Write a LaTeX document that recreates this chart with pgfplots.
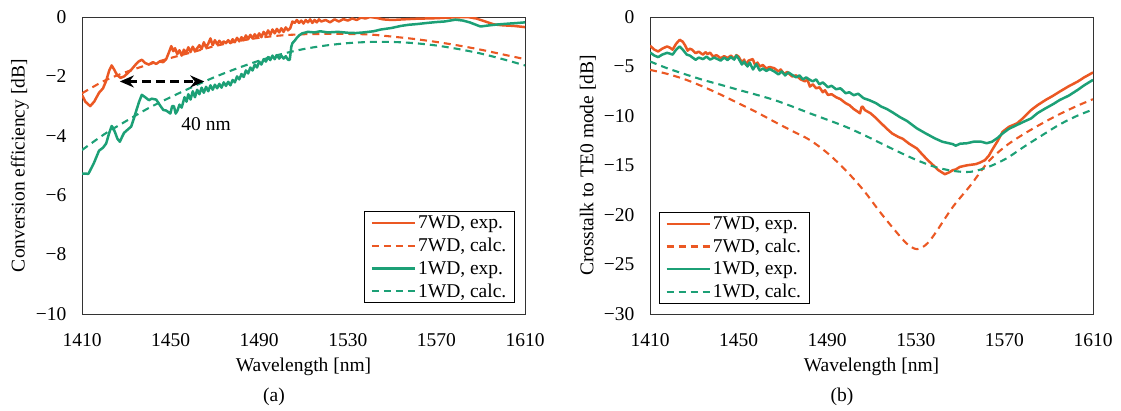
\documentclass[border=0pt]{standalone}
\usepackage{fontspec}
\setmainfont{Liberation Serif}
\usepackage{pgfplots}
\pgfplotsset{compat=1.18}
\usetikzlibrary{arrows.meta}
\definecolor{exporange}{RGB}{235,88,35}
\definecolor{expgreen}{RGB}{28,160,118}
\newcommand\fs{\fontsize{19.5}{23}\selectfont}
\pgfplotsset{
  myaxis/.style={
    width=443pt, height=297pt, scale only axis,
    xmin=1410, xmax=1610,
    xtick={1410,1450,1490,1530,1570,1610},
    xticklabels={1410,1450,1490,1530,1570,1610},
    major tick length=0pt,
    axis line style={black!80, line width=1pt},
    font=\fs,
    xticklabel style={yshift=-16pt},
    yticklabel style={xshift=-12pt},
    xlabel={Wavelength [nm]},
    xlabel style={at={(axis description cs:0.5,-0.192)}, anchor=base},
    ylabel style={at={(axis description cs:-0.14,0.5)}, anchor=center},
    legend cell align=left,
    legend style={font=\fs, draw=black, line width=0.9pt, inner xsep=6pt, inner ysep=2pt, row sep=4pt,
      /tikz/every even column/.append style={column sep=4pt}},
    legend image code/.code={\draw[##1] (0pt,0pt) -- (43pt,0pt);},
  },
  exps/.style={line width=2.5pt, line join=round, #1},
  calcs/.style={line width=2.1pt, dash pattern=on 7pt off 5pt, #1},
}
\begin{document}
\begin{tikzpicture}
\path[use as bounding box] (0,0) rectangle (1121pt,-410pt);

% (a) conversion efficiency
\begin{axis}[myaxis, at={(82pt,-314pt)}, anchor=south west,
  ymin=-10, ymax=0, ytick={-10,-8,-6,-4,-2,0},
  yticklabels={−10,−8,−6,−4,−2,0},
  ylabel={Conversion efficiency [dB]},
  legend style={at={(0.977,0.037)}, anchor=south east}]
\addplot[exps=exporange] coordinates {
(1410,-2.62)(1411.5,-2.85)(1413.7,-3.0)(1415.5,-2.85)(1417.7,-2.55)(1419.5,-2.4)(1420.9,-2.15)(1422.3,-1.8)(1423.4,-1.63)(1424.6,-1.78)(1425.8,-1.95)(1427.4,-2.05)(1429,-2.0)(1430.5,-1.9)(1432.2,-1.78)(1434,-1.62)(1435.5,-1.5)(1437,-1.44)(1438.5,-1.55)(1440.2,-1.6)(1442,-1.52)(1443.5,-1.58)(1445,-1.5)(1446.7,-1.52)(1448,-1.42)(1449.2,-1.2)(1450.3,-0.98)(1451.2,-1.15)(1452,-1.05)(1453,-1.25)(1454,-1.12)(1455,-1.3)(1456,-1.1)(1457,-1.22)(1458,-1.02)(1459,-1.18)(1460,-1.0)(1461,-1.15)(1462,-1.05)(1463,-0.95)(1464,-1.08)(1465,-0.85)(1466,-1.02)(1467,-0.9)(1468,-0.72)(1469,-0.95)(1470,-0.78)(1471,-0.92)(1472,-0.8)(1473,-0.9)(1474,-0.82)(1475,-0.88)(1476,-0.78)(1477,-0.88)(1478,-0.75)(1479,-0.85)(1480,-0.7)(1481,-0.82)(1482,-0.68)(1483,-0.78)(1484,-0.62)(1485,-0.75)(1486,-0.6)(1487,-0.72)(1488,-0.58)(1489,-0.7)(1490,-0.55)(1491,-0.68)(1492,-0.5)(1493,-0.62)(1494,-0.45)(1495,-0.6)(1496,-0.42)(1497,-0.55)(1498,-0.4)(1499,-0.52)(1500,-0.38)(1501,-0.5)(1502,-0.35)(1503,-0.45)(1504,-0.38)(1505,-0.15)(1506,-0.2)(1507,-0.1)(1508,-0.2)(1509,-0.12)(1510,-0.22)(1511,-0.1)(1512,-0.18)(1513,-0.08)(1514,-0.2)(1515,-0.1)(1516,-0.18)(1517,-0.08)(1518,-0.15)(1520,-0.1)(1522,-0.18)(1524,-0.08)(1526,-0.15)(1528,-0.07)(1530,-0.12)(1532,-0.05)(1534,-0.1)(1536,-0.02)(1538,-0.05)(1540,0)(1543,-0.03)(1546,-0.08)(1550,-0.1)(1555,-0.08)(1560,-0.06)(1565,-0.05)(1570,-0.04)(1575,-0.02)(1580,-0.01)(1584,0)(1588,-0.05)(1592,-0.15)(1596,-0.25)(1600,-0.28)(1605,-0.3)(1610,-0.34)};
\addlegendentry{7WD, exp.}
\addplot[calcs=exporange, smooth] coordinates {
(1410,-2.57)(1420,-2.15)(1430,-1.85)(1440,-1.6)(1450,-1.38)(1460,-1.18)(1470,-0.98)(1480,-0.82)(1490,-0.7)(1500,-0.62)(1510,-0.58)(1520,-0.57)(1530,-0.57)(1540,-0.59)(1550,-0.66)(1560,-0.74)(1570,-0.84)(1580,-0.96)(1590,-1.1)(1600,-1.26)(1610,-1.42)};
\addlegendentry{7WD, calc.}
\addplot[exps=expgreen] coordinates {
(1410,-5.27)(1412.9,-5.28)(1415.3,-4.93)(1417.7,-4.5)(1419.5,-4.4)(1420.9,-4.26)(1422.3,-3.9)(1423.4,-3.67)(1424.2,-3.75)(1425,-3.9)(1426,-4.1)(1427.1,-4.2)(1428,-4.05)(1429,-3.9)(1430.5,-3.8)(1432.2,-3.69)(1433.5,-3.4)(1434.6,-3.13)(1435.8,-2.85)(1437,-2.62)(1438.5,-2.7)(1440.2,-2.8)(1441.5,-2.75)(1443.5,-2.78)(1445,-2.95)(1446.7,-3.13)(1448,-3.15)(1449.9,-3.25)(1450.7,-3.0)(1451.5,-3.0)(1452.3,-3.25)(1453.1,-3.15)(1454,-2.95)(1455,-3.05)(1456.3,-2.7)(1457.2,-2.85)(1458,-2.6)(1459,-2.78)(1460,-2.5)(1461,-2.7)(1462,-2.45)(1463,-2.6)(1464,-2.38)(1465,-2.55)(1466,-2.35)(1467,-2.5)(1468,-2.3)(1469,-2.45)(1470,-2.28)(1471,-2.4)(1472,-2.25)(1473,-2.38)(1474,-2.2)(1475,-2.32)(1476,-2.18)(1477,-2.3)(1478,-2.12)(1479,-2.2)(1480,-2.0)(1481,-2.1)(1482,-1.92)(1483,-2.02)(1484,-1.8)(1485,-1.9)(1486,-1.7)(1487,-1.8)(1488,-1.6)(1489,-1.7)(1490,-1.5)(1491,-1.6)(1492,-1.42)(1493,-1.5)(1494,-1.35)(1495,-1.45)(1496,-1.3)(1497,-1.42)(1498,-1.28)(1499,-1.4)(1500,-1.3)(1501,-1.4)(1502,-1.32)(1503,-1.44)(1503.8,-1.44)(1504.5,-1.0)(1505,-0.88)(1506,-0.8)(1507,-0.7)(1508,-0.62)(1509.4,-0.55)(1512,-0.5)(1515,-0.52)(1517.5,-0.48)(1521,-0.52)(1525.5,-0.5)(1530,-0.53)(1533.6,-0.54)(1537,-0.52)(1541.6,-0.48)(1545,-0.42)(1549.7,-0.37)(1554,-0.3)(1557.7,-0.26)(1561,-0.24)(1565.8,-0.2)(1570,-0.17)(1573.8,-0.15)(1578.6,-0.09)(1582,-0.12)(1585,-0.18)(1589.9,-0.32)(1594,-0.28)(1597.9,-0.25)(1603,-0.22)(1607,-0.2)(1610,-0.18)};
\addlegendentry{1WD, exp.}
\addplot[calcs=expgreen, smooth] coordinates {
(1410,-4.48)(1420,-3.95)(1430,-3.5)(1440,-3.07)(1450,-2.7)(1460,-2.35)(1470,-2.02)(1480,-1.73)(1490,-1.47)(1500,-1.25)(1510,-1.08)(1520,-0.96)(1530,-0.88)(1540,-0.84)(1550,-0.84)(1560,-0.88)(1570,-0.96)(1580,-1.08)(1590,-1.23)(1600,-1.42)(1610,-1.63)};
\addlegendentry{1WD, calc.}
\draw[black, line width=2.2pt, dash pattern=on 9pt off 5pt, {Stealth[length=14pt,width=12pt]}-{Stealth[length=14pt,width=12pt]}] (axis cs:1427.1,-2.17) -- (axis cs:1465.2,-2.17);
\node[font=\fs] at (axis cs:1466,-3.6) {40 nm};
\end{axis}

% (b) crosstalk
\begin{axis}[myaxis, at={(650pt,-314pt)}, anchor=south west,
  ymin=-30, ymax=0, ytick={-30,-25,-20,-15,-10,-5,0},
  yticklabels={−30,−25,−20,−15,−10,−5,0},
  ylabel={Crosstalk to TE0 mode [dB]},
  legend style={at={(0.02,0.034)}, anchor=south west}]
\addplot[exps=exporange] coordinates {
(1410,-2.9)(1412,-3.3)(1413.7,-3.48)(1415.5,-3.2)(1417.7,-2.97)(1419,-3.1)(1420.2,-3.3)(1421.8,-2.7)(1423.4,-2.3)(1424.8,-2.5)(1425.8,-2.85)(1427,-3.4)(1428,-3.2)(1429,-3.3)(1430.6,-3.65)(1432,-3.5)(1433.9,-3.8)(1435,-3.55)(1436,-3.75)(1437.1,-3.6)(1438.5,-4.0)(1440,-3.85)(1441.9,-4.16)(1443.5,-3.95)(1445,-4.15)(1446.5,-3.9)(1448,-4.2)(1449,-3.85)(1450,-4.0)(1451.5,-4.6)(1452.5,-4.3)(1453.2,-4.8)(1454.5,-4.4)(1456.4,-4.25)(1457.5,-4.9)(1458.5,-4.6)(1459.6,-5.0)(1461,-4.85)(1462.5,-5.2)(1464,-5.05)(1466.1,-5.17)(1468,-5.5)(1469,-5.3)(1470.5,-5.75)(1472,-5.55)(1474.1,-6.0)(1476,-5.9)(1478,-6.3)(1480,-6.5)(1481,-6.3)(1482.2,-7.03)(1483.5,-6.8)(1485,-7.2)(1486.5,-7.1)(1488,-7.6)(1489,-7.4)(1490.3,-7.87)(1492,-7.8)(1494,-8.1)(1496,-8.3)(1498.3,-8.7)(1500,-8.9)(1502,-9.3)(1504,-9.6)(1504.8,-9.73)(1505.5,-9.1)(1506,-9.05)(1507,-9.4)(1509.6,-9.73)(1512,-10.2)(1514.4,-10.74)(1517,-11.3)(1519.3,-11.76)(1522,-12.1)(1524.1,-12.3)(1527,-12.8)(1530.5,-13.28)(1533,-13.9)(1535.4,-14.46)(1538,-15.0)(1540.2,-15.47)(1543.1,-15.88)(1545,-15.7)(1546.7,-15.47)(1548,-15.4)(1549.9,-15.14)(1553.1,-14.98)(1557.1,-14.86)(1559,-14.7)(1561.2,-14.46)(1563,-14.0)(1564.4,-13.45)(1567,-12.5)(1569.2,-11.59)(1572,-11.1)(1575.7,-10.74)(1578,-10.3)(1582.1,-9.39)(1585,-8.9)(1588.6,-8.38)(1592,-7.95)(1595,-7.53)(1599,-7.0)(1603.1,-6.52)(1606,-6.1)(1610,-5.6)};
\addlegendentry{7WD, exp.}
\addplot[calcs=exporange, smooth] coordinates {
(1410,-5.34)(1417.7,-5.74)(1425.8,-6.3)(1433.9,-7.03)(1442,-7.85)(1450,-8.72)(1458,-9.6)(1466.1,-10.57)(1474.1,-11.5)(1482.2,-12.43)(1490.3,-13.78)(1498.3,-15.47)(1506.4,-17.5)(1514.4,-19.86)(1522.5,-22.06)(1526.5,-23.0)(1530.5,-23.45)(1534.6,-23.0)(1538.6,-21.9)(1546.7,-19.19)(1554.7,-17.0)(1562.8,-14.6)(1570.8,-13.0)(1578.9,-11.8)(1587,-10.75)(1595,-9.8)(1603.1,-8.95)(1610,-8.3)};
\addlegendentry{7WD, calc.}
\addplot[exps=expgreen] coordinates {
(1410,-3.58)(1412,-3.9)(1413.7,-4.05)(1415.5,-3.8)(1417.7,-3.62)(1419,-3.7)(1420.2,-3.8)(1421.8,-3.3)(1423.4,-2.97)(1424.8,-3.3)(1426.6,-3.8)(1428,-3.9)(1430.6,-4.32)(1432,-4.1)(1434,-4.25)(1435.5,-4.0)(1437.1,-4.3)(1439,-4.1)(1441.9,-4.4)(1443.5,-4.1)(1445,-4.35)(1446.5,-4.05)(1448,-4.3)(1449,-3.9)(1450,-4.2)(1451.5,-4.8)(1452.5,-4.5)(1454,-5.0)(1455,-4.6)(1456.5,-5.3)(1458,-4.75)(1459.5,-5.4)(1461,-5.2)(1462.5,-5.45)(1464,-5.25)(1466.1,-5.5)(1468,-5.8)(1469.5,-5.5)(1471,-5.9)(1472.5,-5.6)(1474.1,-5.84)(1476,-6.1)(1477.5,-5.9)(1479,-6.3)(1480.5,-6.1)(1482.2,-6.35)(1483.5,-6.5)(1485,-6.3)(1486.5,-6.8)(1488,-6.6)(1490.3,-7.09)(1492,-6.95)(1494,-7.3)(1496,-7.2)(1498.3,-7.7)(1500,-7.6)(1502,-7.9)(1504,-7.75)(1506.4,-8.2)(1509,-8.4)(1512,-8.7)(1514.4,-9.05)(1517,-9.3)(1520,-9.7)(1522.5,-10.07)(1526,-10.5)(1530.5,-11.25)(1534,-11.7)(1538.6,-12.26)(1542,-12.6)(1546.7,-12.84)(1548,-13.0)(1550,-12.8)(1553.1,-12.75)(1556,-12.6)(1559.6,-12.6)(1562,-12.75)(1564.4,-12.6)(1567,-12.2)(1569.2,-11.76)(1572,-11.3)(1575.7,-10.9)(1579,-10.55)(1582.1,-10.24)(1585,-9.7)(1588.6,-9.22)(1592,-8.8)(1595,-8.38)(1599,-7.95)(1603.1,-7.36)(1606,-6.9)(1610,-6.35)};
\addlegendentry{1WD, exp.}
\addplot[calcs=expgreen, smooth] coordinates {
(1410,-4.49)(1417.7,-5.17)(1425.8,-5.78)(1433.9,-6.35)(1442,-6.85)(1450,-7.36)(1458,-7.85)(1466.1,-8.38)(1474.1,-9.03)(1482.2,-9.73)(1490.3,-10.4)(1498.3,-11.08)(1506.4,-11.9)(1514.4,-12.77)(1522.5,-13.65)(1530.5,-14.46)(1538.6,-15.14)(1546.7,-15.54)(1554.7,-15.64)(1562.8,-15.14)(1570.8,-14.3)(1578.9,-13.1)(1587,-11.95)(1595,-10.85)(1603.1,-9.95)(1610,-9.35)};
\addlegendentry{1WD, calc.}
\end{axis}

\node[font=\fs] at (274pt,-397pt) {(a)};
\node[font=\fs] at (842pt,-397pt) {(b)};
\end{tikzpicture}
\end{document}
